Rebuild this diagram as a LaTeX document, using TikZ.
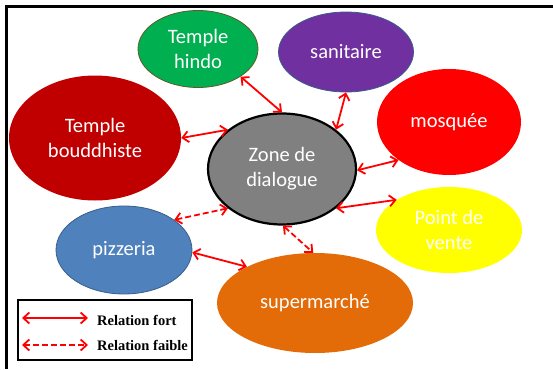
\documentclass[tikz,border=0pt]{standalone}
\usepackage{fontspec}
\setmainfont{Carlito}
\newfontfamily\legfont{Liberation Serif}
\usetikzlibrary{shapes.geometric,arrows.meta}
\definecolor{cgreen}{HTML}{00B050}
\definecolor{cpurple}{HTML}{7030A0}
\definecolor{cdarkred}{HTML}{C00000}
\definecolor{cred}{HTML}{FF0000}
\definecolor{cgray}{HTML}{808080}
\definecolor{cyellow}{HTML}{FFFF00}
\definecolor{cblue}{HTML}{4F81BD}
\definecolor{cblueb}{HTML}{385D8A}
\definecolor{corange}{HTML}{E36C09}
\definecolor{colive}{HTML}{5E5A28}
\tikzset{
  bubble/.style={ellipse, inner sep=0pt, text=white, align=center,
    font=\fontsize{20.5}{25}\selectfont},
  rel/.style={draw=red, line width=1.8pt, {Straight Barb[length=6pt,width=11pt]}-{Straight Barb[length=6pt,width=11pt]}},
  relweak/.style={rel, dash pattern=on 6pt off 3pt},
  legtext/.style={anchor=west, inner sep=0pt, font=\legfont\bfseries\fontsize{14.5}{16}\selectfont},
}
\begin{document}
\begin{tikzpicture}[x=1pt,y=-1pt]
\useasboundingbox (0,0) rectangle (553,369);
\fill[white] (0,0) rectangle (553,369);
% frame
\draw[line width=3pt] (6.5,369) -- (6.5,6.5) -- (553,6.5);
% nodes
\node[bubble, fill=cgreen, draw=colive, line width=0.8pt, minimum width=120pt, minimum height=77pt] (hindo) at (198,49) {Temple\\hindo};
\node[bubble, fill=cpurple, draw=cblueb, line width=0.8pt, minimum width=135pt, minimum height=80pt] (sani) at (346,52) {sanitaire};
\node[bubble, fill=cdarkred, minimum width=172pt, minimum height=125pt] (boud) at (95,138) {Temple\\bouddhiste};
\node[bubble, fill=cred, minimum width=144pt, minimum height=106pt] (mosq) at (449,122) {mosquée};
\node[bubble, fill=cgray, draw=black, line width=2.2pt, minimum width=148pt, minimum height=111pt] (zone) at (282,169) {Zone de\\dialogue};
\node[bubble, fill=cyellow, minimum width=146pt, minimum height=86pt] (vente) at (449,230) {Point de\\vente};
\node[bubble, fill=cblue, draw=cblueb, line width=0.8pt, minimum width=136pt, minimum height=88pt] (pizza) at (124,250) {pizzeria};
\node[bubble, fill=corange, minimum width=196pt, minimum height=100pt] (super) at (315,303) {supermarché};
% connectors
\draw[rel] (hindo.-33) -- (zone.90);
\draw[rel] (sani.-90) -- (zone.36);
\draw[rel] (boud.0) -- (zone.144);
\draw[rel] (mosq.217) -- (zone.-1);
\draw[rel] (vente.150) -- (zone.-36);
\draw[relweak] (pizza.31) -- (zone.216);
\draw[relweak] (zone.-89) -- (super.92);
\draw[rel] (pizza.-2) -- (super.152);
% legend
\node[draw=black, line width=2pt, minimum width=174pt, minimum height=60pt, inner sep=0pt] (legend) at (105,330) {};
\coordinate (l1a) at (22,318);
\coordinate (l1b) at (88,318);
\coordinate (l2a) at (22,345);
\coordinate (l2b) at (88,345);
\draw[rel] (l1a) -- (l1b);
\draw[relweak] (l2a) -- (l2b);
\node[legtext] (t1) at (97,320) {Relation fort};
\node[legtext] (t2) at (97,345) {Relation faible};
\end{tikzpicture}
\end{document}
